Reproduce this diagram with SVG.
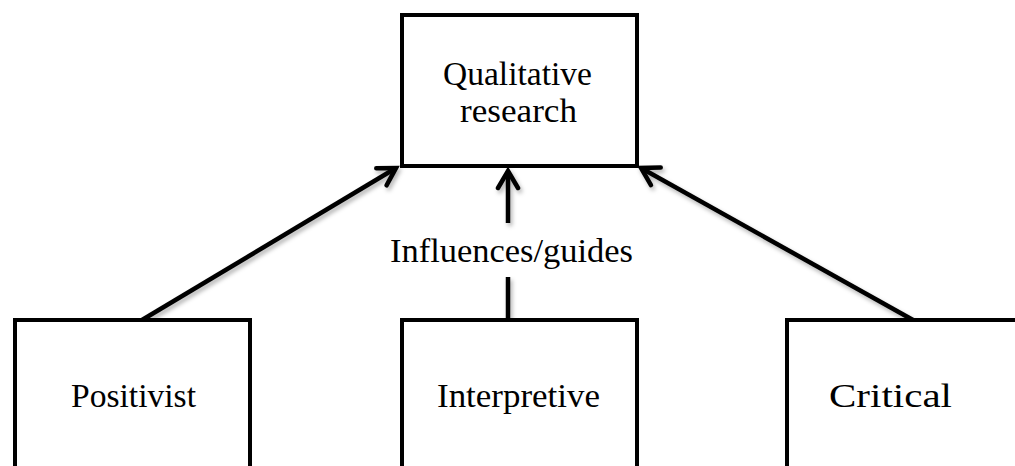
<svg xmlns="http://www.w3.org/2000/svg" width="1015" height="466" viewBox="0 0 1015 466">
  <style>
    .box { fill: #ffffff; stroke: #000000; stroke-width: 4; stroke-linejoin: miter; }
    .lbl { font-family: "Liberation Serif", "DejaVu Serif", serif; font-size: 34px; fill: #000000; text-anchor: middle; }
    .conn { stroke: #000000; stroke-width: 4.5; fill: none; }
  </style>
  <defs>
    <marker id="arrow" markerUnits="userSpaceOnUse" markerWidth="30" markerHeight="30" viewBox="-20 -15 25 30" refX="0" refY="0" orient="auto">
      <path d="M -17,-10 L 0,0 L -17,10" fill="none" stroke="#000000" stroke-width="4.5" stroke-linecap="round" stroke-linejoin="miter"/>
    </marker>
    <filter id="shadow" x="-10%" y="-10%" width="130%" height="130%">
      <feDropShadow dx="2" dy="3" stdDeviation="2" flood-color="#000000" flood-opacity="0.3"/>
    </filter>
  </defs>
  <rect width="1015" height="466" fill="#ffffff"/>

  <g id="connectors" filter="url(#shadow)">
    <line class="conn" x1="142" y1="320" x2="396" y2="168" marker-end="url(#arrow)"/>
    <line class="conn" x1="508" y1="223" x2="508" y2="171" marker-end="url(#arrow)"/>
    <line class="conn" x1="508" y1="320" x2="508" y2="277"/>
    <line class="conn" x1="913" y1="320" x2="641" y2="168" marker-end="url(#arrow)"/>
  </g>

  <g id="edge-label">
    <text class="lbl" x="511.5" y="262" textLength="243" lengthAdjust="spacingAndGlyphs">Influences/guides</text>
  </g>

  <g id="node-qualitative">
    <rect class="box" x="402" y="15" width="235" height="151"/>
    <text class="lbl" x="517.5" y="85" textLength="149" lengthAdjust="spacingAndGlyphs">Qualitative</text>
    <text class="lbl" x="518.5" y="122" textLength="117" lengthAdjust="spacingAndGlyphs">research</text>
  </g>

  <g id="node-positivist">
    <rect class="box" x="15" y="320" width="235" height="160"/>
    <text class="lbl" x="133.5" y="407" textLength="125" lengthAdjust="spacingAndGlyphs">Positivist</text>
  </g>

  <g id="node-interpretive">
    <rect class="box" x="402" y="320" width="235" height="160"/>
    <text class="lbl" x="518.5" y="407" textLength="163" lengthAdjust="spacingAndGlyphs">Interpretive</text>
  </g>

  <g id="node-critical">
    <rect class="box" x="787" y="320" width="240" height="160"/>
    <text class="lbl" x="890.5" y="407" textLength="123" lengthAdjust="spacingAndGlyphs">Critical</text>
  </g>
</svg>
